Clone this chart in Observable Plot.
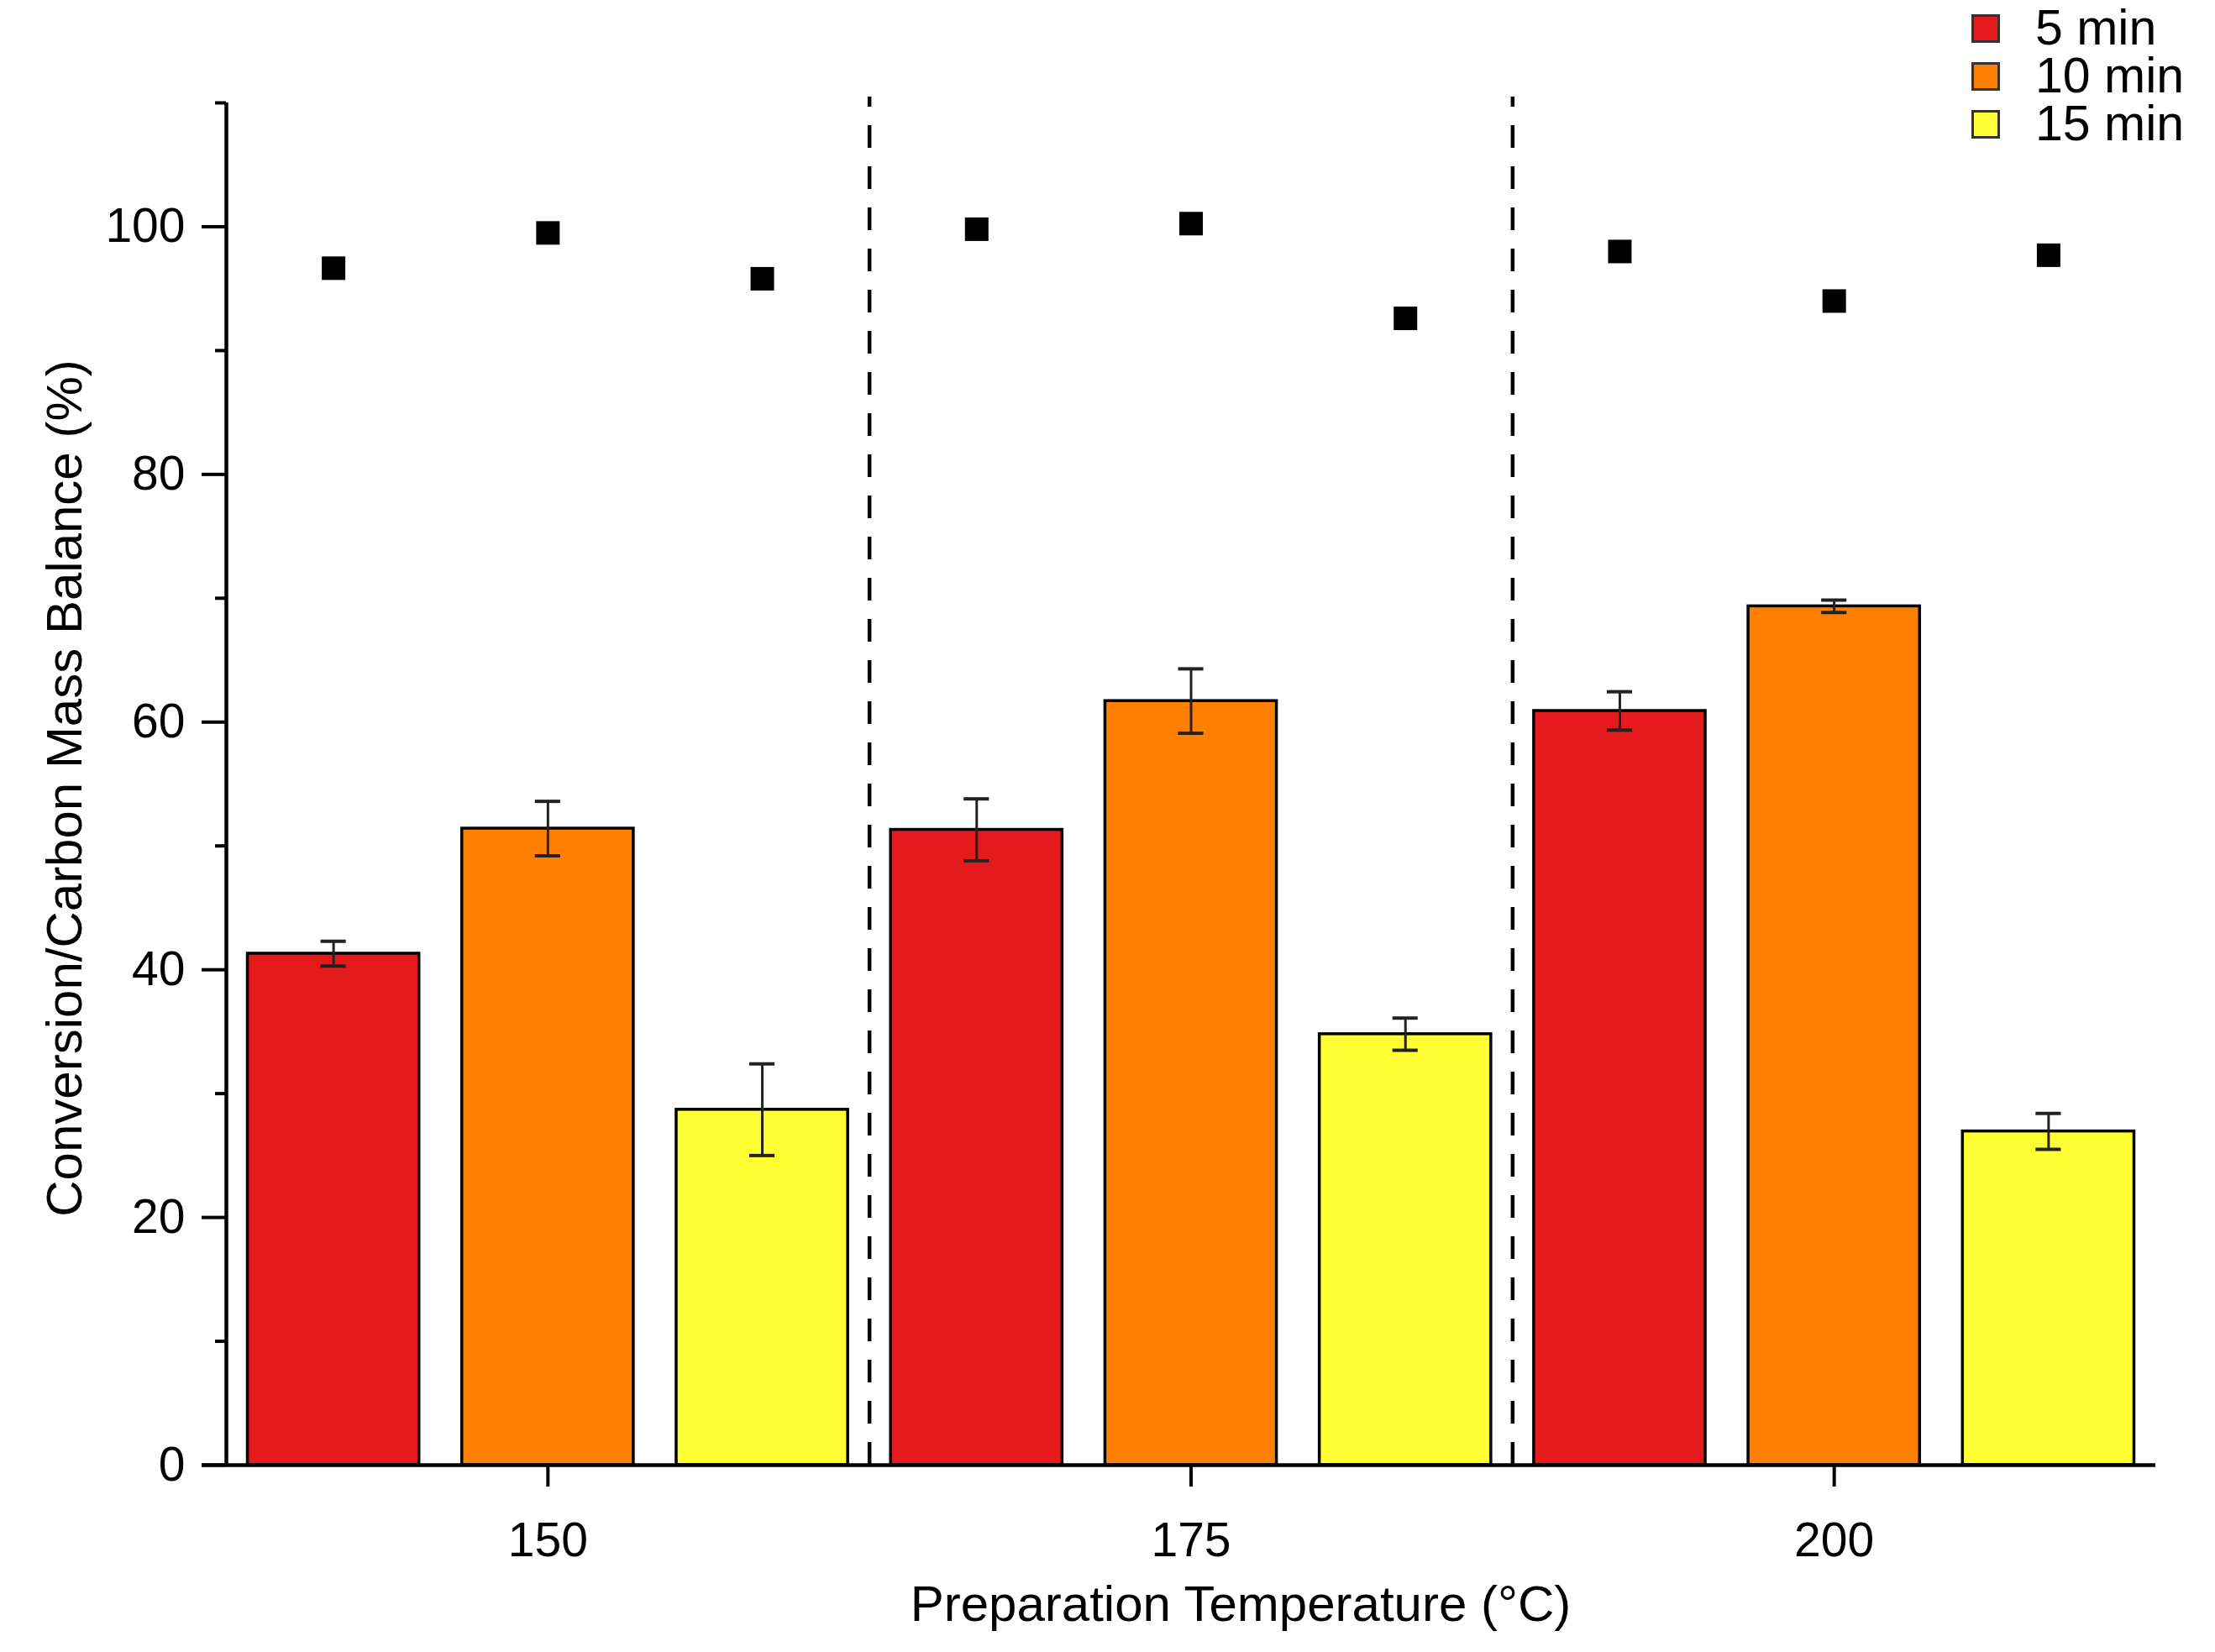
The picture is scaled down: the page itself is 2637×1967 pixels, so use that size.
<!DOCTYPE html>
<html>
<head>
<meta charset="utf-8">
<script src="https://cdn.jsdelivr.net/npm/d3@7"></script>
<script src="https://cdn.jsdelivr.net/npm/@observablehq/plot@0.6"></script>
<style>
html, body { margin: 0; padding: 0; background: #fff; }
#wrap { position: relative; width: 2637px; height: 1967px; }
#legend { position: absolute; left: 2347px; top: 5px; font-family: "Liberation Sans", Arial, sans-serif; font-size: 59px; color: #000; }
.row { display: flex; align-items: center; height: 57px; }
.sw { width: 34px; height: 34px; box-sizing: border-box; border: 3px solid #333; margin-right: 42px; }
.lab { line-height: 57px; white-space: nowrap; }
</style>
</head>
<body>
<div id="wrap"></div>
<script>
// ---- data ----
const temperatures = [150, 175, 200];
const times = ["5 min", "10 min", "15 min"];
const colors = ["#E41A1C", "#FF7F00", "#FFFF33"];

// conversion (%) per time, indexed by temperature
const conv5  = [41.3, 51.3, 60.9];
const conv10 = [51.4, 61.7, 69.35];
const conv15 = [28.7, 34.8, 26.95];
// error bars (±)
const err5  = [1.0, 2.5, 1.55];
const err10 = [2.2, 2.6, 0.5];
const err15 = [3.7, 1.3, 1.45];
// carbon mass balance (%)
const bal5  = [96.65, 99.8, 98.0];
const bal10 = [99.5, 100.25, 94.0];
const bal15 = [95.8, 92.6, 97.7];

const yTicks = [0, 20, 40, 60, 80, 100];
const yMinorTicks = [10, 30, 50, 70, 90, 110];
const xLabel = "Preparation Temperature (°C)";
const yLabel = "Conversion/Carbon Mass Balance (%)";

// ---- build table ----
const convByTime = [conv5, conv10, conv15];
const errByTime = [err5, err10, err15];
const balByTime = [bal5, bal10, bal15];
const nT = times.length;
const rows = [];
temperatures.forEach((temp, g) => {
  times.forEach((time, t) => {
    rows.push({
      temp, time, idx: g * nT + t,
      conv: convByTime[t][g], err: errByTime[t][g], bal: balByTime[t][g]
    });
  });
});
const nBars = temperatures.length * nT;
const groupCenters = temperatures.map((_, g) => g * nT + (nT - 1) / 2);
const separators = temperatures.slice(1).map((_, g) => (g + 1) * nT - 0.5);

const chart = Plot.plot({
  width: 2637,
  height: 1967,
  marginLeft: 269,
  marginRight: 71,
  marginTop: 122,
  marginBottom: 223,
  style: { fontFamily: '"Liberation Sans", Arial, sans-serif', fontSize: "57px", color: "#000", background: "#fff" },
  x: { domain: [-0.5, nBars - 0.5], axis: null },
  y: { domain: [0, 110], axis: null },
  color: { domain: times, range: colors },
  marks: [
    Plot.ruleX(separators, { stroke: "#000", strokeWidth: 4.5, strokeDasharray: "27,22", strokeDashoffset: 15, insetTop: -7 }),
    Plot.rectY(rows, { x1: d => d.idx - 0.4, x2: d => d.idx + 0.4, y1: 0, y2: "conv", fill: "time", stroke: "#000", strokeWidth: 3.5 }),
    Plot.ruleX(rows, { x: "idx", y1: d => d.conv - d.err, y2: d => d.conv + d.err, stroke: "#222", strokeWidth: 3 }),
    Plot.ruleY(rows, { y: d => d.conv - d.err, x1: d => d.idx - 0.059, x2: d => d.idx + 0.059, stroke: "#222", strokeWidth: 4 }),
    Plot.ruleY(rows, { y: d => d.conv + d.err, x1: d => d.idx - 0.059, x2: d => d.idx + 0.059, stroke: "#222", strokeWidth: 4 }),
    Plot.dot(rows, { x: "idx", y: "bal", symbol: "square", r: 15.8, fill: "#000", stroke: "none" }),
    Plot.axisY({ ticks: yTicks, tickSize: 29, tickPadding: 20, strokeWidth: 4, label: null, fontSize: 57 }),
    Plot.axisY({ ticks: yMinorTicks, tickSize: 13, tickFormat: () => "", strokeWidth: 4, label: null }),
    Plot.axisX({ ticks: groupCenters, tickFormat: i => temperatures[Math.round((i - (nT - 1) / 2) / nT)], tickSize: 26, tickPadding: 42, strokeWidth: 4, label: null, fontSize: 57 }),
    Plot.ruleY([0], { insetLeft: -29, stroke: "#000", strokeWidth: 4.5 }),
    Plot.ruleX([-0.5], { stroke: "#000", strokeWidth: 4.5, insetBottom: -2 }),
    Plot.text([xLabel], { frameAnchor: "bottom", lineAnchor: "middle", textAnchor: "middle", dy: 166, dx: 59, fontSize: 60, fill: "#000" }),
    Plot.text([yLabel], { frameAnchor: "left", textAnchor: "middle", lineAnchor: "middle", rotate: -90, dx: -192, dy: 5, fontSize: 60, fill: "#000" })
  ]
});

const wrap = document.getElementById("wrap");
wrap.appendChild(chart);

// legend
const legend = d3.select(wrap).append("div").attr("id", "legend");
times.forEach((t, i) => {
  const row = legend.append("div").attr("class", "row");
  row.append("div").attr("class", "sw").style("background", colors[i]);
  row.append("div").attr("class", "lab").text(t);
});
</script>
</body>
</html>
